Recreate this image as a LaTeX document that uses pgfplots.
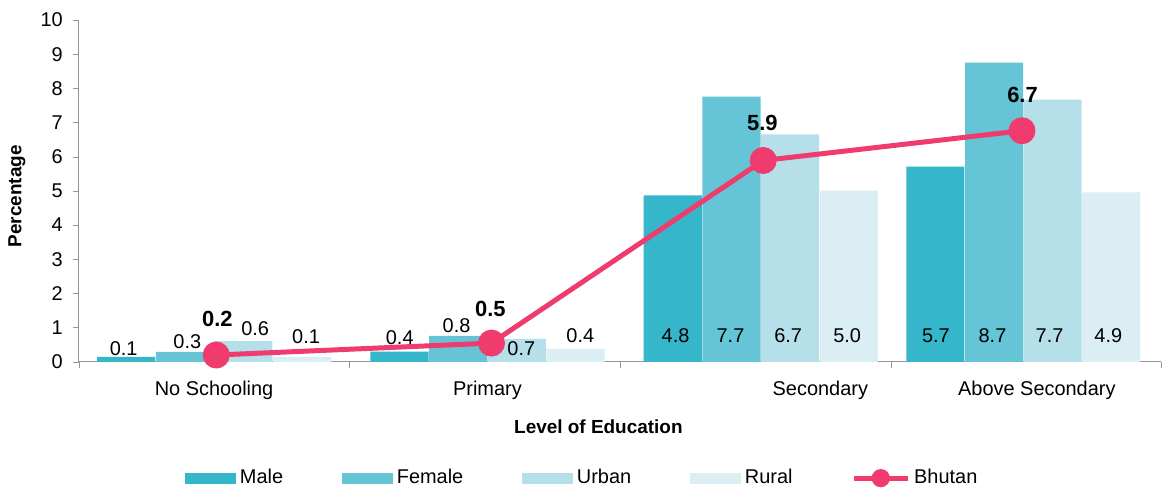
\documentclass[border=0pt]{standalone}
\usepackage{pgfplots}
\usepackage{pgfplotstable}
\pgfplotsset{compat=1.18}
\usepackage{fontspec}
\setmainfont{Liberation Sans}

\definecolor{male}{RGB}{53,182,202}
\definecolor{female}{RGB}{101,196,213}
\definecolor{urban}{RGB}{181,224,233}
\definecolor{rural}{RGB}{218,238,243}
\definecolor{bhutan}{RGB}{239,59,110}
\definecolor{axisgray}{RGB}{150,150,150}

% value labels (x position, y centre, text)
\pgfplotstableread{
x      y     label
-0.334 0.40  0.1
-0.099 0.58  0.3
 0.152 0.96  0.6
 0.340 0.75  0.1
 0.686 0.70  0.4
 0.896 1.05  0.8
 1.135 0.38  0.7
 1.353 0.76  0.4
 1.705 0.77  4.8
 1.908 0.77  7.7
 2.121 0.77  6.7
 2.339 0.77  5.0
 2.667 0.77  5.7
 2.876 0.77  8.7
 3.087 0.77  7.7
 3.304 0.77  4.9
}\barlabels

\pgfplotstableread{
x     y    label
0.012 1.25 0.2
1.021 1.55 0.5
2.026 7.00 5.9
2.987 7.81 6.7
}\linelabels

\begin{document}
\begin{tikzpicture}
\begin{axis}[
  name=ax,
  scale only axis,
  width=543pt, height=171.5pt,
  xmin=-0.5, xmax=3.5, ymin=0, ymax=10,
  axis x line*=bottom, axis y line*=left,
  axis line style={-, draw=axisgray},
  tick style={draw=axisgray},
  tick align=outside,
  ytick={0,1,...,10},
  major tick length=3pt,
  xtick={-0.5,0.5,1.5,2.5,3.5},
  xticklabels={},
  extra x ticks={0,1.01,2.24,3.04},
  extra x tick labels={No Schooling,Primary,Secondary,Above Secondary},
  extra x tick style={major tick length=0pt, tick style={draw=none}},
  xticklabel style={font=\fontsize{10}{12}\selectfont, yshift=-6pt},
  yticklabel style={font=\fontsize{10}{12}\selectfont, xshift=-1.5pt},
  /pgf/number format/assume math mode=true,
  xlabel={Level of Education},
  ylabel={Percentage},
  label style={font=\bfseries\fontsize{9.5}{11}\selectfont},
  xlabel style={at={(rel axis cs:0.48,0)}, anchor=center, yshift=-32.5pt},
  ylabel style={at={([xshift=-31pt]rel axis cs:0,0.484)}, anchor=center},
  legend columns=5,
  legend style={draw=none, at={(0.466,-0.34)}, anchor=center,
    font=\fontsize{10}{12}\selectfont,
    /tikz/every even column/.append style={column sep=27.5pt}},
  legend cell align=left,
]
\addplot[ybar, bar width=0.215, bar shift=-0.325, fill=male, draw=none,
  legend image code/.code={\fill[male] (0pt,-2.75pt) rectangle (25.5pt,2.75pt);}]
  coordinates {(0,0.15) (1.01,0.30) (2.02,4.87) (2.99,5.71)};
\addlegendentry{Male}
\addplot[ybar, bar width=0.215, bar shift=-0.108, fill=female, draw=none,
  legend image code/.code={\fill[female] (0pt,-2.75pt) rectangle (25.5pt,2.75pt);}]
  coordinates {(0,0.29) (1.01,0.76) (2.02,7.76) (2.99,8.75)};
\addlegendentry{Female}
\addplot[ybar, bar width=0.215, bar shift=0.108, fill=urban, draw=none,
  legend image code/.code={\fill[urban] (0pt,-2.75pt) rectangle (25.5pt,2.75pt);}]
  coordinates {(0,0.61) (1.01,0.67) (2.02,6.65) (2.99,7.67)};
\addlegendentry{Urban}
\addplot[ybar, bar width=0.215, bar shift=0.325, fill=rural, draw=none,
  legend image code/.code={\fill[rural] (0pt,-2.75pt) rectangle (25.5pt,2.75pt);}]
  coordinates {(0,0.14) (1.01,0.38) (2.02,5.01) (2.99,4.96)};
\addlegendentry{Rural}
\addplot[color=bhutan, line width=2.5pt, mark=*, mark size=5.5pt,
  mark options={draw=none, fill=bhutan},
  legend image code/.code={
    \draw[bhutan, line width=2.5pt] (0pt,0pt) -- (27pt,0pt);
    \fill[bhutan] (13.5pt,0pt) circle (3.3pt);}]
  coordinates {(0.008,0.20) (1.025,0.55) (2.029,5.89) (2.985,6.76)};
\addlegendentry{Bhutan}

\addplot[forget plot, draw=none, mark=none, nodes near coords,
  point meta=explicit symbolic,
  every node near coord/.append style={anchor=center, black,
    font=\fontsize{10}{12}\selectfont}]
  table[x=x, y=y, meta=label] {\barlabels};
\addplot[forget plot, draw=none, mark=none, nodes near coords,
  point meta=explicit symbolic,
  every node near coord/.append style={anchor=center, black,
    font=\bfseries\fontsize{11}{13}\selectfont}]
  table[x=x, y=y, meta=label] {\linelabels};
\end{axis}
\path[use as bounding box] ([shift={(-39.5pt,-63pt)}]ax.south west) rectangle ++(584pt,244.5pt);
\end{tikzpicture}
\end{document}
